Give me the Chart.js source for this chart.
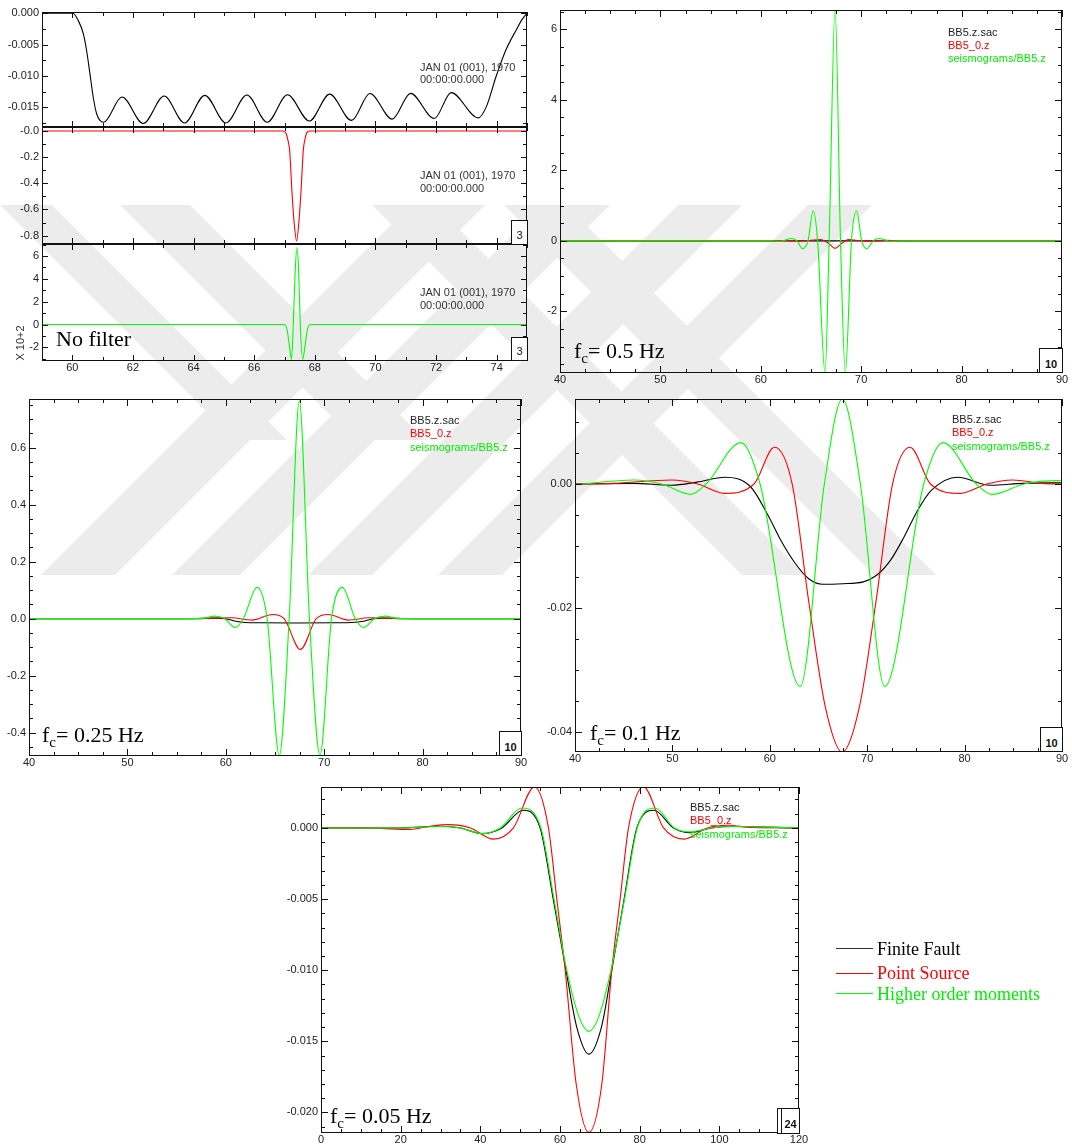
<!DOCTYPE html>
<html>
<head>
<meta charset="utf-8">
<script src="https://cdn.jsdelivr.net/npm/chart.js@4.4.0/dist/chart.umd.min.js"></script>
<style>
body { margin: 0; background: #fff; }
#page { position: relative; width: 1072px; height: 1144px; overflow: hidden; background: #fff; }
#mark, #ticks { position: absolute; left: 0; top: 0; }
#charts canvas { position: absolute; }
.txt { position: absolute; font-family: 'Liberation Sans', Arial, sans-serif; font-size: 11px; line-height: 12.5px; white-space: nowrap; color: #333; }
.leg { position: absolute; font-family: 'Liberation Sans', Arial, sans-serif; font-size: 11px; line-height: 13.4px; white-space: nowrap; }
.big { position: absolute; font-family: 'Liberation Serif', 'Times New Roman', serif; font-size: 22px; line-height: 22px; white-space: nowrap; color: #000; }
.big .c { font-size: 15px; vertical-align: -5px; }
.box { position: absolute; border: 1px solid #111; background: #fff; box-sizing: border-box; font-family: 'Liberation Sans', Arial, sans-serif; font-size: 11px; text-align: center; color: #111; }
.key { position: absolute; font-family: 'Liberation Serif', 'Times New Roman', serif; font-size: 18px; line-height: 18px; white-space: nowrap; }
.keyline { position: absolute; height: 0; width: 37px; border-top: 1px solid; }
</style>
</head>
<body>
<div id="page">
  <!-- faint watermark stripes behind the plots -->
  <svg id="mark" width="1072" height="1144">
    <g fill="#ececec">
      <polygon points="41,575 115,575 485,205 411,205"/>
      <polygon points="172,575 240,575 610,205 542,205"/>
      <polygon points="308,575 372,575 742,205 678,205"/>
      <polygon points="438,575 502,575 872,205 808,205"/>
      <polygon points="0,205 52,205 287,440 235,440"/>
      <polygon points="120,205 190,205 425,440 355,440"/>
      <polygon points="372,205 435,205 805,575 742,575"/>
      <polygon points="504,205 566,205 936,575 874,575"/>
    </g>
  </svg>

  <div id="charts"></div>
  <svg id="ticks" width="1072" height="1144"></svg>

  <div class="txt" style="left:420px; top:60.5px;">JAN 01 (001), 1970<br>00:00:00.000</div>
  <div class="txt" style="left:420px; top:169px;">JAN 01 (001), 1970<br>00:00:00.000</div>
  <div class="txt" style="left:420px; top:286px;">JAN 01 (001), 1970<br>00:00:00.000</div>
  <div class="txt" style="left:20px; top:343px; transform: translate(-50%, -50%) rotate(-90deg);">X 10+2</div>
  <div class="big" style="left:56px; top:328px;">No filter</div>
  <div class="box" style="left:511px; top:220px; width:17px; height:25px; padding-top:8px;">3</div>
  <div class="box" style="left:511px; top:337px; width:17px; height:24px; padding-top:7px;">3</div>

  <div class="leg" style="left:948px; top:25.5px;"><span style="color:#222">BB5.z.sac</span><br><span style="color:#ff0000">BB5_0.z</span><br><span style="color:#00ee00">seismograms/BB5.z</span></div>
  <div class="big" style="left:574px; top:340px;">f<span class="c">c</span>= 0.5 Hz</div>
  <div class="box" style="left:1039px; top:348px; width:24px; height:25px; padding-top:9px; font-weight:bold;">10</div>

  <div class="leg" style="left:410px; top:414px;"><span style="color:#222">BB5.z.sac</span><br><span style="color:#ff0000">BB5_0.z</span><br><span style="color:#00ee00">seismograms/BB5.z</span></div>
  <div class="big" style="left:42px; top:724px;">f<span class="c">c</span>= 0.25 Hz</div>
  <div class="box" style="left:499px; top:731px; width:23px; height:25px; padding-top:9px; font-weight:bold;">10</div>

  <div class="leg" style="left:952px; top:413px;"><span style="color:#222">BB5.z.sac</span><br><span style="color:#ff0000">BB5_0.z</span><br><span style="color:#00ee00">seismograms/BB5.z</span></div>
  <div class="big" style="left:590px; top:722px;">f<span class="c">c</span>= 0.1 Hz</div>
  <div class="box" style="left:1040px; top:727px; width:23px; height:25px; padding-top:9px; font-weight:bold;">10</div>

  <div class="leg" style="left:690px; top:801px;"><span style="color:#222">BB5.z.sac</span><br><span style="color:#ff0000">BB5_0.z</span><br><span style="color:#00ee00">seismograms/BB5.z</span></div>
  <div class="big" style="left:330px; top:1105px;">f<span class="c">c</span>= 0.05 Hz</div>
  <div class="box" style="left:777px; top:1108px; width:23px; height:26px; font-weight:bold;">
    <div style="position:absolute; left:3px; top:-1px; bottom:-1px; border-left:1px solid #111;"></div>
    <div style="position:absolute; left:4px; right:0; top:9px;">24</div>
  </div>

  <div class="keyline" style="left:836px; top:948px; border-color:#333;"></div>
  <div class="key" style="left:877px; top:940px; color:#000;">Finite Fault</div>
  <div class="keyline" style="left:836px; top:973px; border-color:#ff0000;"></div>
  <div class="key" style="left:877px; top:964px; color:#ff0000;">Point Source</div>
  <div class="keyline" style="left:836px; top:993px; border-color:#00ff00;"></div>
  <div class="key" style="left:877px; top:985px; color:#00ee00;">Higher order moments</div>
</div>

<script>
// colours of the three sources
const faultColor = '#000000';   // BB5.z.sac  - finite fault
const pointColor = '#ff0000';   // BB5_0.z    - point source
const momentColor = '#00ff00';  // seismograms/BB5.z - higher order moments

// ---------- No filter (three stacked traces, time 59-75 s)
const nfXTicks = [60, 62, 64, 66, 68, 70, 72, 74];

const nfFaultX = [59, 60.02, 60.19, 60.36, 60.47, 60.58, 60.69, 60.80, 60.91, 61.03, 61.64, 62.34, 63.03, 63.70, 64.37, 65.07, 65.76, 66.43, 67.10, 67.82, 68.49, 69.21, 69.82, 70.55, 71.16, 71.94, 72.50, 73.39, 73.66, 73.98, 74.30, 74.64, 74.85, 75];
const nfFaultY = [0, 0, -0.0011, -0.0032, -0.0059, -0.0096, -0.0134, -0.0160, -0.0171, -0.0174, -0.01337, -0.0176, -0.0132, -0.0175, -0.0131, -0.0175, -0.01305, -0.0174, -0.0130, -0.0172, -0.0129, -0.0171, -0.0128, -0.0169, -0.01278, -0.0168, -0.01267, -0.0167, -0.0149, -0.0101, -0.0059, -0.0027, -0.0009, 0];
const nfFaultTicks = [0, -0.005, -0.010, -0.015];
const nfFaultLabels = ['0.000', '-0.005', '-0.010', '-0.015'];

const nfPointX = [59, 66.95, 67.05, 67.12, 67.17, 67.24, 67.31, 67.40, 67.48, 67.55, 67.62, 67.68, 67.75, 67.85, 75];
const nfPointY = [-0.003, -0.003, -0.02, -0.08, -0.15, -0.44, -0.68, -0.84, -0.68, -0.44, -0.15, -0.06, -0.01, -0.003, -0.003];
const nfPointTicks = [0, -0.2, -0.4, -0.6, -0.8];
const nfPointLabels = ['-0.0', '-0.2', '-0.4', '-0.6', '-0.8'];

const nfMomentX = [59, 66.98, 67.08, 67.16, 67.23, 67.29, 67.35, 67.41, 67.47, 67.52, 67.60, 67.68, 67.76, 67.86, 75];
const nfMomentY = [0, 0, -0.4, -1.8, -3.05, 0, 4.5, 6.75, 4.5, 0, -3.05, -1.8, -0.4, 0, 0];
const nfMomentTicks = [-2, 0, 2, 4, 6];
const nfMomentLabels = ['-2', '0', '2', '4', '6'];

// ---------- common time ticks for the filtered panels
const midXTicks = [40, 50, 60, 70, 80, 90];
const lowXTicks = [0, 20, 40, 60, 80, 100, 120];

// ---------- fc = 0.5 Hz
const halfFaultX = [40, 90];
const halfFaultY = [0, 0];
const halfPointX = [40, 61, 62.5, 63.8, 64.8, 65.97, 66.7, 67.4, 68.1, 68.75, 70.0, 71.2, 72.4, 74, 90];
const halfPointY = [0, 0, 0.01, -0.01, 0.01, 0.04, -0.06, -0.21, -0.06, 0.035, 0.0, -0.01, 0.015, 0, 0];
const halfMomentX = [40, 61, 62.0, 63.07, 63.6, 64.16, 64.7, 65.22, 65.66, 66.40, 66.81, 67.40, 67.94, 68.42, 69.03, 69.54, 70.05, 70.57, 71.2, 71.76, 72.8, 74, 90];
const halfMomentY = [0, 0, -0.01, 0.066, 0, -0.226, 0, 0.853, 0, -3.75, 0, 6.6, 0, -3.75, 0, 0.853, 0, -0.226, 0, 0.066, -0.01, 0, 0];
const halfYTicks = [-2, 0, 2, 4, 6];
const halfYLabels = ['-2', '0', '2', '4', '6'];

// ---------- fc = 0.25 Hz
const quarterFaultX = [40, 57, 59, 60, 61, 62, 63.5, 67, 71, 72.8, 74, 75, 76, 78, 90];
const quarterFaultY = [0, 0, 0.002, 0, -0.009, -0.0135, -0.0145, -0.015, -0.0145, -0.0135, -0.009, 0, 0.002, 0, 0];
const quarterPointX = [40, 55, 57.5, 60.6, 62.66, 64.75, 65.93, 67.58, 69.19, 70.40, 72.46, 74.5, 77.5, 80, 90];
const quarterPointY = [0, 0, 0.001, 0.003, -0.005, 0.0149, 0, -0.108, 0, 0.0149, -0.005, 0.003, 0.001, 0, 0];
const quarterMomentX = [40, 56, 57.8, 58.87, 59.9, 60.94, 61.79, 63.17, 64.2, 65.44, 66.44, 67.47, 68.5, 69.57, 70.74, 71.84, 73.16, 74.01, 75.1, 76.18, 77.3, 79, 90];
const quarterMomentY = [0, 0, 0.002, 0.009, 0, -0.031, 0, 0.110, 0, -0.48, 0, 0.765, 0, -0.48, 0, 0.110, 0, -0.031, 0, 0.009, 0.002, 0, 0];
const quarterYTicks = [-0.4, -0.2, 0, 0.2, 0.4, 0.6];
const quarterYLabels = ['-0.4', '-0.2', '0.0', '0.2', '0.4', '0.6'];

// ---------- fc = 0.1 Hz
const tenthFaultX = [40, 46, 49.9, 52.5, 55.4, 58.0, 59.8, 61.2, 62.6, 64.0, 65.4, 67.5, 69.6, 71.0, 72.4, 73.8, 75.2, 76.6, 79.3, 82.6, 86, 90];
const tenthFaultY = [0, 0.0001, -0.0002, 0.0003, 0.0011, -0.0004, -0.005, -0.0093, -0.0128, -0.0153, -0.0162, -0.0161, -0.0158, -0.0147, -0.0123, -0.0085, -0.0042, -0.001, 0.0011, -0.0002, 0.0001, 0.0002];
const tenthPointX = [40, 44, 49.94, 52.6, 55.32, 58.38, 60.48, 62.3, 64.0, 65.7, 67.44, 69.2, 70.9, 72.6, 74.4, 76.5, 79.56, 82.3, 84.9, 88, 90];
const tenthPointY = [0, 0.0001, 0.00065, 0, -0.00151, 0, 0.00593, 0, -0.019, -0.036, -0.0433, -0.036, -0.019, 0, 0.00593, 0, -0.00151, 0, 0.00065, 0.0001, 0];
const tenthMomentX = [40, 46.08, 48.9, 51.88, 53.46, 57.04, 59.0, 63.12, 65.6, 67.44, 69.3, 71.8, 75.8, 77.77, 81.2, 82.8, 86.1, 89.65, 90];
const tenthMomentY = [-0.0001, 0.00065, 0, -0.00167, 0, 0.00668, 0, -0.0327, 0, 0.0137, 0, -0.0327, 0, 0.00668, 0, -0.00167, 0, 0.00054, 0.0005];
const tenthYTicks = [-0.04, -0.02, 0];
const tenthYLabels = ['-0.04', '-0.02', '0.00'];

// ---------- fc = 0.05 Hz
const twentiethFaultX = [0, 20, 29.9, 35, 40.4, 45.4, 50.7, 55.0, 58.3, 61.5, 64.2, 67.24, 70.4, 73.0, 76.1, 79.3, 83.6, 88.5, 92.7, 98, 103.5, 120];
const twentiethFaultY = [0, 0, 0.00012, 0, -0.0004, 0, 0.00124, 0, -0.005, -0.010, -0.014, -0.0159, -0.014, -0.010, -0.005, 0, 0.00124, 0, -0.00033, 0, 0.0001, 0];
const twentiethPointX = [0, 10, 16, 22.4, 27, 32.0, 37.5, 43.3, 48.3, 53.6, 57.1, 59.2, 61.3, 64.06, 67.24, 70.5, 73.0, 75.1, 77.2, 80.95, 86.0, 91.15, 97.0, 102.3, 108, 120];
const twentiethPointY = [0, 0.00002, -0.00005, -0.0001, 0.0001, 0.00023, 0, -0.00079, 0, 0.0029, 0, -0.005, -0.010, -0.018, -0.0214, -0.018, -0.010, -0.005, 0, 0.0029, 0, -0.00079, 0, 0.00019, 0.00003, 0];
const twentiethMomentX = [0, 20, 29.9, 35, 40.4, 45.0, 50.4, 55.2, 58.5, 61.7, 64.8, 67.24, 69.7, 72.8, 76.2, 79.4, 83.9, 88.7, 92.7, 98, 103.5, 120];
const twentiethMomentY = [0, 0, 0.0001, 0, -0.0004, 0, 0.0014, 0, -0.005, -0.010, -0.0133, -0.0143, -0.0133, -0.010, -0.005, 0, 0.0014, 0, -0.00028, 0, 0.0001, 0];
const twentiethYTicks = [-0.020, -0.015, -0.010, -0.005, 0];
const twentiethYLabels = ['-0.020', '-0.015', '-0.010', '-0.005', '0.000'];

// walk the minor tick values of a scale, flagging the major ones
function eachTick(scale, minor, major, fn) {
  const first = Math.ceil(scale.min / minor - 1e-6);
  const last = Math.floor(scale.max / minor + 1e-6);
  for (let n = first; n <= last; n++) {
    const v = n * minor;
    const r = v / major;
    fn(scale.getPixelForValue(v), Math.abs(r - Math.round(r)) < 1e-6);
  }
}

// SAC style frame round the plot area
const sacFrame = {
  id: 'sacFrame',
  afterDatasetsDraw(chart) {
    if (!chart.canvas.sacFrame) return;
    const { ctx, chartArea: a } = chart;
    ctx.save();
    ctx.strokeStyle = '#111';
    ctx.lineWidth = 1;
    ctx.strokeRect(a.left + 0.5, a.top + 0.5, a.right - a.left - 1, a.bottom - a.top - 1);
    ctx.restore();
  }
};
Chart.register(sacFrame);
Chart.defaults.font.family = "'Liberation Sans', Arial, sans-serif";
Chart.defaults.font.size = 11;
Chart.defaults.color = '#222';

// inward ticks on all four sides, placed from the chart's own scales
function addTicks(chart, canvas, f) {
  try {
    const a = chart.chartArea;
    const ox = parseFloat(canvas.style.left), oy = parseFloat(canvas.style.top);
    let d = '';
    eachTick(chart.scales.x, f.xMinor, f.xMajor, (px, major) => {
      const len = major ? f.major : f.minor;
      const x = Math.round(ox + px) + 0.5;
      d += 'M' + x + ' ' + (oy + a.top) + 'v' + len + 'M' + x + ' ' + (oy + a.bottom) + 'v' + (-len);
    });
    eachTick(chart.scales.y, f.yMinor, f.yMajor, (py, major) => {
      const len = major ? f.major : f.minor;
      const y = Math.round(oy + py) + 0.5;
      d += 'M' + (ox + a.left) + ' ' + y + 'h' + len + 'M' + (ox + a.right) + ' ' + y + 'h' + (-len);
    });
    const path = document.createElementNS('http://www.w3.org/2000/svg', 'path');
    path.setAttribute('d', d);
    path.setAttribute('stroke', '#111');
    path.setAttribute('stroke-width', '1');
    path.setAttribute('fill', 'none');
    document.getElementById('ticks').appendChild(path);
  } catch (e) {
    console.error(e);
  }
}

function trace(xs, ys, color) {
  return {
    data: xs.map((x, i) => ({ x: x, y: ys[i] })),
    borderColor: color,
    borderWidth: 1.1,
    pointRadius: 0,
    fill: false,
    cubicInterpolationMode: 'monotone'
  };
}

function makePanel(p) {
  const padTop = 10, padRight = 16;
  const axisH = p.showX ? 16 : 0;
  const padBottom = p.showX ? 0 : 10;
  const canvas = document.createElement('canvas');
  canvas.width = (p.right - p.left) + p.axisW + padRight;
  canvas.height = (p.bottom - p.top) + padTop + axisH + padBottom;
  canvas.style.left = (p.left - p.axisW) + 'px';
  canvas.style.top = (p.top - padTop) + 'px';
  canvas.sacFrame = p.frame;
  document.getElementById('charts').appendChild(canvas);

  const chart = new Chart(canvas, {
    type: 'line',
    data: { datasets: p.datasets },
    options: {
      responsive: false,
      animation: false,
      events: [],
      layout: { padding: { top: padTop, right: padRight, bottom: padBottom, left: 0 } },
      plugins: {
        legend: { display: false },
        tooltip: { enabled: false }
      },
      scales: {
        x: {
          type: 'linear',
          min: p.xMin,
          max: p.xMax,
          bounds: 'data',
          grid: { display: false, drawTicks: false },
          border: { display: false },
          ticks: {
            display: p.showX,
            autoSkip: false,
            maxRotation: 0,
            minRotation: 0,
            padding: 0,
            callback: (v, i) => String(p.xTicks[i])
          },
          afterBuildTicks: (s) => { s.ticks = p.xTicks.map(v => ({ value: v })); },
          afterFit: (s) => { s.height = axisH; }
        },
        y: {
          type: 'linear',
          min: p.yMin,
          max: p.yMax,
          bounds: 'data',
          grid: { display: false, drawTicks: false },
          border: { display: false },
          ticks: {
            autoSkip: false,
            padding: 3,
            callback: (v, i) => p.yLabels[i]
          },
          afterBuildTicks: (s) => { s.ticks = p.yTicks.map(v => ({ value: v })); },
          afterFit: (s) => { s.width = p.axisW; }
        }
      }
    }
  });
  addTicks(chart, canvas, p.frame);
  return chart;
}

const nfFrame = { xMinor: 1, xMajor: 2, major: 6, minor: 4 };

makePanel({
  left: 42, right: 527, top: 12, bottom: 127, axisW: 42, showX: false,
  xMin: 59, xMax: 75, yMin: -0.01815, yMax: 0.0002,
  xTicks: nfXTicks, yTicks: nfFaultTicks, yLabels: nfFaultLabels,
  frame: Object.assign({ yMinor: 0.0025, yMajor: 0.005 }, nfFrame),
  datasets: [trace(nfFaultX, nfFaultY, faultColor)]
});
makePanel({
  left: 42, right: 527, top: 127, bottom: 244, axisW: 42, showX: false,
  xMin: 59, xMax: 75, yMin: -0.863, yMax: 0.028,
  xTicks: nfXTicks, yTicks: nfPointTicks, yLabels: nfPointLabels,
  frame: Object.assign({ yMinor: 0.1, yMajor: 0.2 }, nfFrame),
  datasets: [trace(nfPointX, nfPointY, pointColor)]
});
makePanel({
  left: 42, right: 527, top: 244, bottom: 361, axisW: 42, showX: true,
  xMin: 59, xMax: 75, yMin: -3.19, yMax: 7.05,
  xTicks: nfXTicks, yTicks: nfMomentTicks, yLabels: nfMomentLabels,
  frame: Object.assign({ yMinor: 1, yMajor: 2 }, nfFrame),
  datasets: [trace(nfMomentX, nfMomentY, momentColor)]
});

const midFrame = { xMinor: 2.5, xMajor: 10, major: 7, minor: 4 };

makePanel({
  left: 560, right: 1062, top: 10, bottom: 373, axisW: 30, showX: true,
  xMin: 40, xMax: 90, yMin: -3.75, yMax: 6.55,
  xTicks: midXTicks, yTicks: halfYTicks, yLabels: halfYLabels,
  frame: Object.assign({ yMinor: 0.5, yMajor: 2 }, midFrame),
  datasets: [
    trace(halfMomentX, halfMomentY, momentColor),
    trace(halfPointX, halfPointY, pointColor),
    trace(halfFaultX, halfFaultY, faultColor)
  ]
});
makePanel({
  left: 29, right: 521, top: 399, bottom: 756, axisW: 29, showX: true,
  xMin: 40, xMax: 90, yMin: -0.482, yMax: 0.771,
  xTicks: midXTicks, yTicks: quarterYTicks, yLabels: quarterYLabels,
  frame: Object.assign({ yMinor: 0.05, yMajor: 0.2 }, midFrame),
  datasets: [
    trace(quarterMomentX, quarterMomentY, momentColor),
    trace(quarterPointX, quarterPointY, pointColor),
    trace(quarterFaultX, quarterFaultY, faultColor)
  ]
});
makePanel({
  left: 575, right: 1062, top: 399, bottom: 752, axisW: 40, showX: true,
  xMin: 40, xMax: 90, yMin: -0.04328, yMax: 0.01373,
  xTicks: midXTicks, yTicks: tenthYTicks, yLabels: tenthYLabels,
  frame: Object.assign({ yMinor: 0.005, yMajor: 0.02 }, midFrame),
  datasets: [
    trace(tenthMomentX, tenthMomentY, momentColor),
    trace(tenthPointX, tenthPointY, pointColor),
    trace(tenthFaultX, tenthFaultY, faultColor)
  ]
});
makePanel({
  left: 321, right: 799, top: 787, bottom: 1133, axisW: 44, showX: true,
  xMin: 0, xMax: 120, yMin: -0.021446, yMax: 0.002877,
  xTicks: lowXTicks, yTicks: twentiethYTicks, yLabels: twentiethYLabels,
  frame: { xMinor: 5, xMajor: 20, yMinor: 0.001, yMajor: 0.005, major: 7, minor: 4 },
  datasets: [
    trace(twentiethMomentX, twentiethMomentY, momentColor),
    trace(twentiethPointX, twentiethPointY, pointColor),
    trace(twentiethFaultX, twentiethFaultY, faultColor)
  ]
});
</script>
</body>
</html>
